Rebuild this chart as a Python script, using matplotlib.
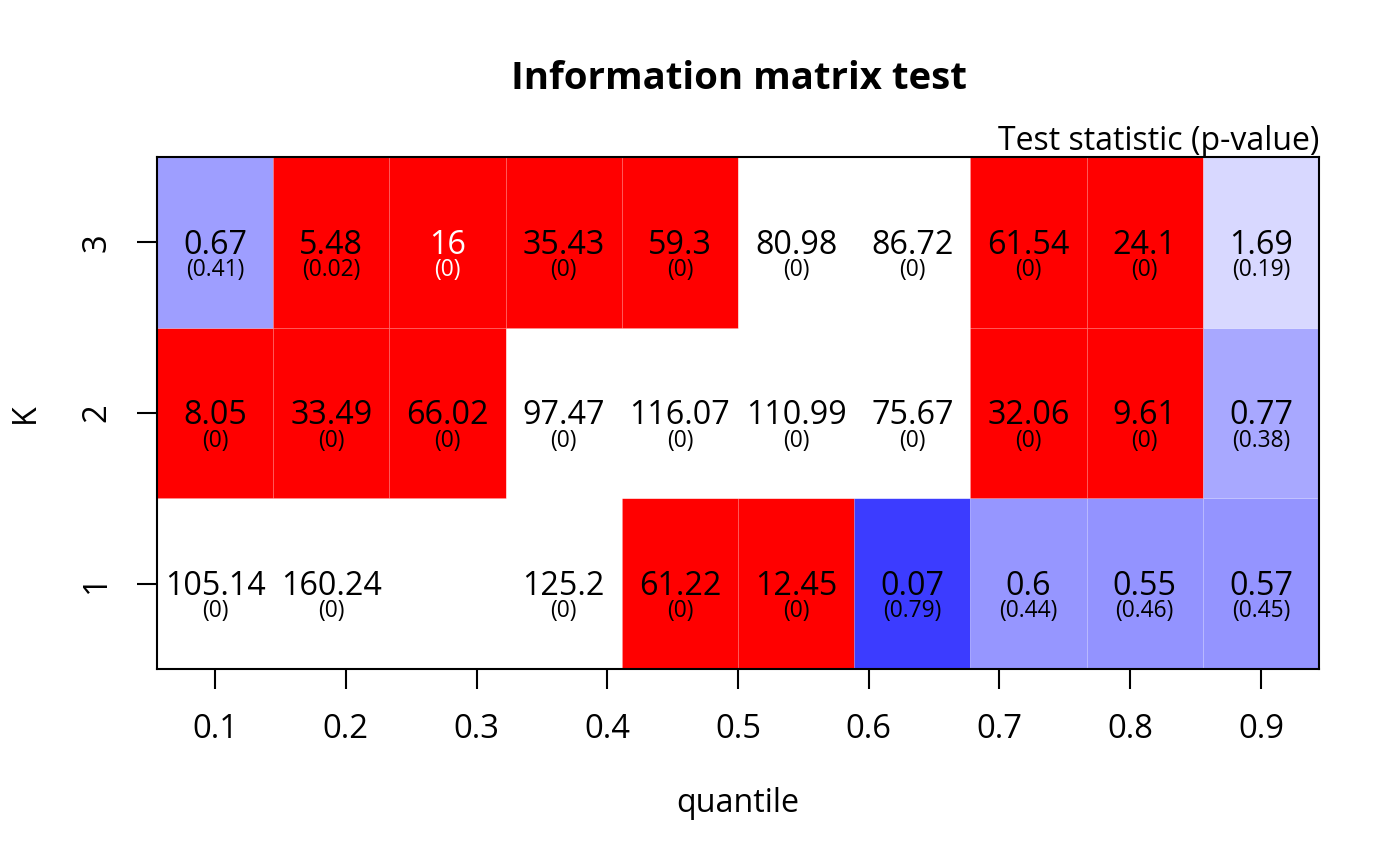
import matplotlib
matplotlib.use("Agg")
import matplotlib.pyplot as plt
from matplotlib.patches import Rectangle

plt.rcParams['font.family'] = ['Open Sans', 'DejaVu Sans']

# ---- data ----
quantile_labels = ["0.1", "0.2", "0.3", "0.4", "0.5", "0.6", "0.7", "0.8", "0.9"]
k_labels = ["1", "2", "3"]
n_cols = 10

# test statistics, rows K=1,2,3 (None = no visible label)
stat_k1 = [105.14, 160.24, None, 125.2, 61.22, 12.45, 0.07, 0.6, 0.55, 0.57]
stat_k2 = [8.05, 33.49, 66.02, 97.47, 116.07, 110.99, 75.67, 32.06, 9.61, 0.77]
stat_k3 = [0.67, 5.48, 16, 35.43, 59.3, 80.98, 86.72, 61.54, 24.1, 1.69]

pval_k1 = [0, 0, None, 0, 0, 0, 0.79, 0.44, 0.46, 0.45]
pval_k2 = [0, 0, 0, 0, 0, 0, 0, 0, 0, 0.38]
pval_k3 = [0.41, 0.02, 0, 0, 0, 0, 0, 0, 0, 0.19]

fill_k1 = ['#FFFFFF', '#FFFFFF', '#FFFFFF', '#FFFFFF', '#FF0000', '#FF0000', '#3C3CFF', '#9696FF', '#9393FF', '#9494FF']
fill_k2 = ['#FF0000', '#FF0000', '#FF0000', '#FFFFFF', '#FFFFFF', '#FFFFFF', '#FFFFFF', '#FF0000', '#FF0000', '#A8A8FF']
fill_k3 = ['#9E9EFF', '#FF0000', '#FF0000', '#FF0000', '#FF0000', '#FFFFFF', '#FFFFFF', '#FF0000', '#FF0000', '#D8D8FF']

textcol_k1 = ['black'] * 10
textcol_k2 = ['black'] * 10
textcol_k3 = ['black', 'black', 'white', 'black', 'black', 'black', 'black', 'black', 'black', 'black']

stats = [stat_k1, stat_k2, stat_k3]
pvals = [pval_k1, pval_k2, pval_k3]
fills = [fill_k1, fill_k2, fill_k3]
tcols = [textcol_k1, textcol_k2, textcol_k3]

title = "Information matrix test"
subtitle = "Test statistic (p-value)"

# ---- figure ----
fig = plt.figure(figsize=(7, 4.33), dpi=200)
ax = fig.add_axes([157/1400, 1-669/866, 1162/1400, 512/866])

step = 1.0 / (n_cols - 1)
for r in range(3):
    k = r + 1
    for c in range(n_cols):
        xc = c * step
        ax.add_patch(Rectangle((xc - step/2, k - 0.5), step, 1.0,
                               facecolor=fills[r][c], edgecolor=(1, 1, 1, 0.12),
                               linewidth=0.3, zorder=1))
        s = stats[r][c]
        p = pvals[r][c]
        if s is not None:
            ax.annotate(f"{s:g}", xy=(xc, k), xytext=(0, -1), textcoords='offset points',
                        ha='center', va='center', fontsize=11.6,
                        color=tcols[r][c], zorder=3)
        if p is not None:
            ax.annotate(f"({p:g})", xy=(xc, k), xytext=(0, -10), textcoords='offset points',
                        ha='center', va='center', fontsize=8.2, color=tcols[r][c], zorder=3)

ax.set_xlim(-step/2, 1 + step/2)
ax.set_ylim(0.5, 3.5)

xt = [i / (len(quantile_labels) - 1) for i in range(len(quantile_labels))]
ax.set_xticks(xt)
ax.set_xticklabels(quantile_labels, fontsize=11.8)
ax.set_yticks([1, 2, 3])
ax.set_yticklabels(k_labels, fontsize=11.8, rotation=90, va='center')
ax.tick_params(axis='both', length=7.2, width=0.75, color='black', direction='out')
ax.tick_params(axis='x', pad=8.5)
ax.tick_params(axis='y', pad=8.5)
for sp in ax.spines.values():
    sp.set_linewidth(0.75)
    sp.set_color('black')
    sp.set_zorder(5)

fig.text(739/1400, 1-79/866, title, ha='center', va='center', fontsize=13.8, fontweight='bold')
fig.text(1319/1400, 1-150/866, subtitle, ha='right', va='baseline', fontsize=11.5)
fig.text(738/1400, 1-804/866, "quantile", ha='center', va='center', fontsize=11.6)
fig.text(25/1400, 1-413/866, "K", ha='center', va='center', fontsize=11.6, rotation=90)

fig.savefig("out.png", dpi=200)
